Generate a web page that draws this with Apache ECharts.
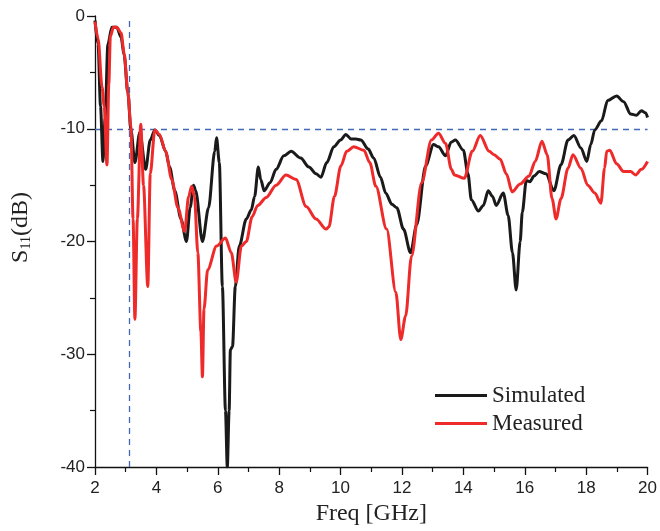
<!DOCTYPE html>
<html>
<head>
<meta charset="utf-8">
<script src="https://cdn.jsdelivr.net/npm/echarts@6/dist/echarts.min.js"></script>
<style>
  html, body { margin: 0; padding: 0; background: #fff; }
  #chart { width: 660px; height: 531px; }
</style>
</head>
<body>
<div id="chart"></div>
<script>
// Return loss S11 versus frequency: [GHz, dB] pairs
const simulated = [
  [2.0,-0.4],[2.1,-2.5],[2.18,-8],[2.26,-12.9],[2.33,-9],[2.42,-2.5],[2.55,-1.0],[2.71,-1.0],
  [2.85,-1.9],[2.95,-3.5],[3.07,-6.8],[3.17,-10.1],[3.3,-13.0],[3.46,-10.3],[3.65,-13.6],[3.8,-11],
  [3.95,-10.1],[4.1,-10.6],[4.3,-12],[4.43,-13.4],[4.6,-15.5],[4.8,-18],[4.98,-20.0],[5.1,-17],
  [5.21,-15.0],[5.28,-15.5],[5.5,-20.0],[5.7,-17],[5.9,-12],[5.96,-10.8],[6.05,-13],[6.15,-24],
  [6.25,-35],[6.31,-40],[6.37,-35],[6.41,-29.6],[6.48,-29.3],[6.57,-24],[6.7,-20.4],[6.93,-18],
  [7.09,-17.2],[7.2,-16],[7.32,-13.4],[7.4,-14.5],[7.51,-15.5],[7.7,-14.8],[7.9,-13.6],[8.15,-12.4],
  [8.39,-12.0],[8.7,-12.6],[8.97,-13.4],[9.2,-14],[9.36,-14.3],[9.55,-13],[9.78,-11.6],[10.0,-11],
  [10.17,-10.5],[10.34,-10.9],[10.5,-10.9],[10.66,-11.0],[10.9,-11.8],[11.08,-12.6],[11.3,-14.3],
  [11.47,-15.7],[11.67,-16.7],[11.83,-17],[12.05,-18.9],[12.28,-21],[12.48,-18.5],[12.77,-13.3],
  [13.03,-11.4],[13.19,-11.6],[13.42,-12.4],[13.6,-11.2],[13.74,-11],[14.0,-11.9],[14.15,-14],
  [14.26,-16.3],[14.49,-17.3],[14.65,-16.8],[14.81,-15.5],[14.95,-16],[15.07,-16.8],[15.3,-15.7],
  [15.46,-17.7],[15.6,-21],[15.72,-24.3],[15.85,-20],[15.92,-17.4],[16.05,-14.6],[16.17,-14.7],
  [16.3,-14.2],[16.47,-13.8],[16.69,-14],[16.95,-15.5],[17.18,-13.2],[17.41,-11],[17.6,-10.6],
  [17.83,-11.7],[18.02,-12.9],[18.15,-11.4],[18.28,-10.1],[18.5,-9.3],[18.7,-7.5],[18.99,-7.1],
  [19.22,-7.6],[19.45,-8.7],[19.64,-8.8],[19.8,-8.4],[19.94,-8.6],[20.0,-9.0]
];

const measured = [
  [2.0,-0.5],[2.1,-2],[2.23,-6.3],[2.3,-8],[2.39,-13.2],[2.45,-6],[2.5,-1.8],[2.6,-1.0],[2.71,-1.0],
  [2.85,-1.5],[2.95,-3.3],[3.07,-6.8],[3.17,-9.8],[3.24,-18],[3.3,-26.9],[3.38,-18],[3.49,-9.6],
  [3.58,-15],[3.72,-24.0],[3.8,-14],[3.95,-10.1],[4.1,-10.5],[4.3,-12],[4.5,-14.5],[4.7,-17],
  [4.92,-19.1],[5.05,-16],[5.15,-15.1],[5.24,-16],[5.35,-21],[5.45,-28],[5.5,-32],[5.55,-26],
  [5.67,-22.5],[5.96,-20.4],[6.25,-19.7],[6.44,-21],[6.6,-23.6],[6.77,-20.4],[6.93,-20],[7.12,-17.8],
  [7.3,-16.8],[7.58,-16.1],[7.9,-15],[8.22,-14.1],[8.55,-14.5],[8.88,-16.9],[9.2,-18],[9.53,-18.9],
  [9.62,-18.7],[9.8,-16],[10.01,-13.3],[10.2,-12],[10.43,-11.6],[10.76,-11.9],[10.95,-13],[11.15,-15.1],
  [11.5,-18.9],[11.8,-24.5],[11.96,-28.7],[12.12,-26.6],[12.31,-21.3],[12.64,-14.8],[12.96,-11],
  [13.19,-10.4],[13.42,-11.3],[13.61,-13.6],[13.71,-14.1],[14.03,-14.4],[14.29,-12],[14.55,-10.6],
  [14.84,-12],[15.0,-12.3],[15.2,-12.7],[15.4,-14],[15.59,-15.6],[15.85,-14.9],[16.14,-14.2],
  [16.34,-12.9],[16.56,-11.1],[16.73,-12.3],[16.89,-16.2],[17.02,-18],[17.18,-16.2],[17.41,-13.5],
  [17.57,-12.3],[17.83,-13.5],[18.05,-15],[18.28,-15.7],[18.48,-16.6],[18.6,-13.5],[18.67,-12],
  [18.77,-11.9],[18.99,-13.1],[19.22,-13.8],[19.45,-13.8],[19.61,-14.1],[19.8,-13.6],[20.0,-12.9]
];

// Reference levels: -10 dB threshold and lower band edge
const thresholdDb = -10;
const bandEdgeGHz = 3.1;

const seriesNames = ['Simulated', 'Measured'];
const xRange = [2, 20];
const yRange = [-40, 0];

const sansFont = '"Liberation Sans", Arial, sans-serif';
const serifFont = '"Liberation Serif", "Times New Roman", serif';
const dashBlue = '#4169b8';

const chart = echarts.init(document.getElementById('chart'), null, { renderer: 'canvas' });

chart.setOption({
  animation: false,
  backgroundColor: '#ffffff',
  grid: { left: 95, right: 9, top: 16, bottom: 63, containLabel: false },
  legend: {
    data: seriesNames,
    orient: 'vertical',
    left: 430,
    top: 379,
    icon: 'rect',
    itemWidth: 52,
    itemHeight: 3,
    itemGap: 5,
    textStyle: { fontFamily: serifFont, fontSize: 23, color: '#222' }
  },
  xAxis: {
    type: 'value',
    min: xRange[0],
    max: xRange[1],
    interval: 2,
    name: 'Freq [GHz]',
    nameLocation: 'middle',
    nameGap: 35,
    nameTextStyle: { fontFamily: serifFont, fontSize: 24, color: '#222' },
    axisLine: { show: true, onZero: false, lineStyle: { color: '#111', width: 1.3 } },
    axisTick: { show: true, inside: false, length: 8, lineStyle: { color: '#111', width: 1.3 } },
    minorTick: { show: true, splitNumber: 2, length: 5, lineStyle: { color: '#111', width: 1.2 } },
    axisLabel: { fontFamily: sansFont, fontSize: 17, color: '#222', margin: 13 },
    splitLine: { show: false }
  },
  yAxis: {
    type: 'value',
    min: yRange[0],
    max: yRange[1],
    interval: 10,
    name: '{s|S}{sub|11}{s|(dB)}',
    nameLocation: 'middle',
    nameGap: 62,
    nameRotate: 90,
    nameTextStyle: {
      color: '#222',
      padding: [0, 0, 0, 28],
      rich: {
        s: { fontFamily: serifFont, fontSize: 24, color: '#222' },
        sub: { fontFamily: serifFont, fontSize: 14, color: '#222', verticalAlign: 'bottom', padding: [10, 0, 0, 0] }
      }
    },
    axisLine: { show: true, onZero: false, lineStyle: { color: '#111', width: 1.3 } },
    axisTick: { show: true, inside: false, length: 8, lineStyle: { color: '#111', width: 1.3 } },
    minorTick: { show: true, splitNumber: 2, length: 5, lineStyle: { color: '#111', width: 1.2 } },
    axisLabel: { fontFamily: sansFont, fontSize: 17, color: '#222', margin: 10 },
    splitLine: { show: false }
  },
  series: [
    {
      name: seriesNames[0],
      type: 'line',
      data: simulated,
      showSymbol: false,
      smooth: 0.3,
      smoothMonotone: 'x',
      lineStyle: { color: '#1a1a1a', width: 3 },
      itemStyle: { color: '#1a1a1a' },
      z: 3
    },
    {
      name: seriesNames[1],
      type: 'line',
      data: measured,
      showSymbol: false,
      smooth: 0.3,
      smoothMonotone: 'x',
      lineStyle: { color: '#ee2a2a', width: 3 },
      itemStyle: { color: '#ee2a2a' },
      z: 4,
      markLine: {
        silent: true,
        symbol: 'none',
        label: { show: false },
        lineStyle: { color: dashBlue, type: [6, 5], width: 1.3 },
        data: [
          { yAxis: thresholdDb },
          { xAxis: bandEdgeGHz }
        ],
        z: 1
      }
    }
  ]
});
</script>
</body>
</html>
